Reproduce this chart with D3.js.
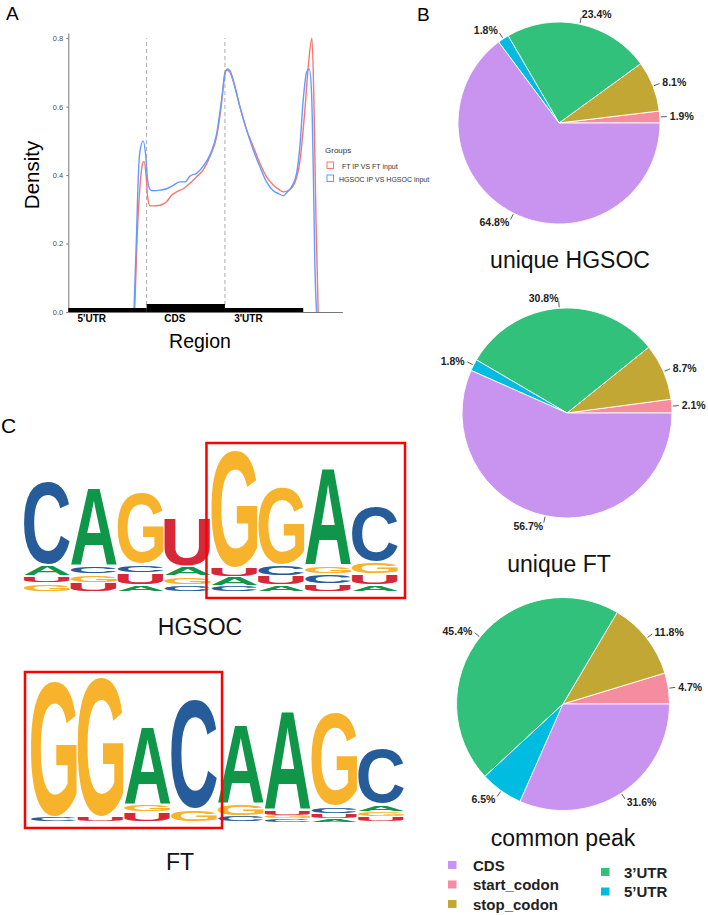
<!DOCTYPE html>
<html>
<head>
<meta charset="utf-8">
<script src="https://cdn.jsdelivr.net/npm/d3@7"></script>
<style>
  body { margin: 0; background: #fff; }
  svg { display: block; }
</style>
</head>
<body>
<div id="chart"></div>
<script>
// ---- data ----
// metagene density, x in region units (0-1 5'UTR, 1-2 CDS, 2-3 3'UTR)
const groups = ["FT IP VS FT input", "HGSOC IP VS HGSOC input"];
const groupColors = ["#F8766D", "#619CFF"];
const ftDensity = [[0.847,0],[0.881,0.23],[0.915,0.366],[0.949,0.434],[0.966,0.44],[0.991,0.405],[1.013,0.337],[1.043,0.31],[1.085,0.31],[1.17,0.312],[1.255,0.322],[1.319,0.341],[1.383,0.351],[1.468,0.36],[1.553,0.376],[1.638,0.395],[1.723,0.415],[1.809,0.454],[1.894,0.512],[1.957,0.61],[2.0,0.70],[2.021,0.707],[2.064,0.70],[2.106,0.673],[2.191,0.6],[2.277,0.532],[2.362,0.483],[2.447,0.434],[2.532,0.395],[2.617,0.371],[2.702,0.356],[2.745,0.351],[2.83,0.358],[2.894,0.378],[2.957,0.44],[3.021,0.59],[3.064,0.717],[3.111,0.8],[3.136,0.62],[3.162,0.278],[3.191,0]];
const hgsocDensity = [[0.838,0],[0.872,0.23],[0.889,0.366],[0.915,0.47],[0.957,0.50],[0.987,0.46],[1.013,0.385],[1.043,0.358],[1.085,0.354],[1.17,0.356],[1.255,0.36],[1.34,0.37],[1.426,0.38],[1.489,0.38],[1.553,0.397],[1.638,0.405],[1.723,0.426],[1.809,0.459],[1.894,0.52],[1.957,0.62],[2.0,0.693],[2.03,0.71],[2.064,0.705],[2.106,0.678],[2.191,0.6],[2.277,0.532],[2.362,0.473],[2.447,0.424],[2.532,0.38],[2.617,0.354],[2.681,0.346],[2.745,0.34],[2.787,0.348],[2.851,0.366],[2.915,0.405],[2.957,0.483],[3.0,0.62],[3.043,0.70],[3.077,0.71],[3.106,0.64],[3.128,0.42],[3.149,0.13],[3.17,0]];
const densityTicks = [0, 0.2, 0.4, 0.6, 0.8];
const regionNames = ["5'UTR", "CDS", "3'UTR"];
const regionLabelAt = [0.3, 1.36, 2.3];

// peak distribution pies
const pieCategories = ["CDS", "start_codon", "stop_codon", "3’UTR", "5’UTR"];
const pieColors = ["#C993F0", "#F68CA0", "#C2A735", "#31C17B", "#00BCE0"];
const sliceOrder = ["start_codon", "stop_codon", "3’UTR", "5’UTR", "CDS"];
const uniqueHGSOC = [64.8, 1.9, 8.1, 23.4, 1.8];
const uniqueFT = [56.7, 2.1, 8.7, 30.8, 1.8];
const commonPeak = [31.6, 4.7, 11.8, 45.4, 6.5];
const pieTitles = ["unique HGSOC", "unique FT", "common peak"];

// motif logos: letters bottom -> top, heights in bits
const hgsocLetters = [["G","U","A","C"],["U","G","C","A"],["A","U","C","G"],["C","G","A","U"],["C","A","U","G"],["A","U","C","G"],["U","C","G","A"],["A","U","G","C"]];
const hgsocBits = [[0.12,0.10,0.14,1.11],[0.12,0.12,0.12,1.04],[0.09,0.16,0.12,0.95],[0.09,0.12,0.13,0.65],[0.08,0.12,0.13,1.57],[0.09,0.12,0.15,1.04],[0.11,0.13,0.12,1.31],[0.09,0.15,0.16,0.74]];
const ftLetters = [["C","G"],["U","G"],["U","G","A"],["G","C"],["C","G","A"],["C","G","U","A"],["A","U","C","G"],["U","G","A","C"]];
const ftBits = [[0.07,1.81],[0.07,1.87],[0.13,0.11,1.05],[0.16,1.47],[0.08,0.16,1.06],[0.04,0.05,0.07,1.32],[0.04,0.07,0.10,1.25],[0.07,0.07,0.10,0.75]];
const baseColors = {A: "#109648", C: "#255C99", G: "#F7B32B", U: "#D62839"};

// ---- setup ----
const FONT = "'Liberation Sans', Arial, Helvetica, sans-serif";
const svg = d3.select("#chart").append("svg")
  .attr("width", 708).attr("height", 915)
  .style("font-family", FONT);

// panel letters
svg.append("text").attr("x", 6).attr("y", 20).attr("font-size", 19).text("A");
svg.append("text").attr("x", 417).attr("y", 21).attr("font-size", 19).text("B");
svg.append("text").attr("x", 1).attr("y", 433).attr("font-size", 21).text("C");

// ---- A: density ----
const x = d3.scaleLinear().domain([0, 3.5]).range([68.3, 342.4]);
const y = d3.scaleLinear().domain([0, 0.815]).range([312, 33]);
const gA = svg.append("g");

gA.append("g").attr("transform", `translate(${x(0)},0)`)
  .call(d3.axisLeft(y).tickValues(densityTicks).tickFormat(d3.format(".1f")).tickSize(2).tickSizeOuter(0))
  .call(g => g.selectAll("path,line").attr("stroke", "#555").attr("stroke-width", 0.8))
  .call(g => g.selectAll("text").attr("fill", "#4d4d4d").attr("font-size", 7.5).attr("font-family", FONT));

gA.append("g").attr("transform", `translate(0,${y(0)})`)
  .call(d3.axisBottom(x).tickValues([]).tickSizeOuter(0))
  .call(g => g.select("path").attr("stroke", "#555").attr("stroke-width", 0.8));

// region boundaries
gA.selectAll("line.bound").data([1, 2]).enter().append("line")
  .attr("x1", d => x(d)).attr("x2", d => x(d))
  .attr("y1", y(0)).attr("y2", y(0.8))
  .attr("stroke", "#aaa").attr("stroke-width", 1).attr("stroke-dasharray", "4,3");

const line = d3.line().x(d => x(d[0])).y(d => y(d[1])).curve(d3.curveMonotoneX);
[ftDensity, hgsocDensity].forEach((ser, i) => {
  gA.append("path").attr("d", line(ser))
    .attr("fill", "none").attr("stroke", groupColors[i]).attr("stroke-width", 1.4);
});

// gene model
gA.selectAll("rect.gene").data(regionNames).enter().append("rect")
  .attr("x", (d, i) => x(i)).attr("width", x(1) - x(0))
  .attr("y", (d, i) => y(0) - (i === 1 ? 8 : 4))
  .attr("height", (d, i) => i === 1 ? 8 : 4)
  .attr("fill", "#000");
gA.selectAll("text.region").data(regionNames).enter().append("text")
  .attr("x", (d, i) => x(regionLabelAt[i])).attr("y", 322)
  .attr("text-anchor", "middle").attr("font-size", 10).attr("font-weight", "bold")
  .text(d => d);

gA.append("text").attr("x", 200).attr("y", 348).attr("text-anchor", "middle")
  .attr("font-size", 19.5).text("Region");
gA.append("text").attr("transform", "translate(39,175) rotate(-90)")
  .attr("text-anchor", "middle").attr("font-size", 20.5).text("Density");

// legend
gA.append("text").attr("x", 325).attr("y", 153).attr("font-size", 8).attr("fill", "#333").text("Groups");
groups.forEach((gname, i) => {
  gA.append("rect").attr("x", 327).attr("y", 162 + i * 13).attr("width", 6.5).attr("height", 6.5)
    .attr("fill", "#fff").attr("stroke", groupColors[i]).attr("stroke-width", 1);
  gA.append("text").attr("x", i === 0 ? 342 : 339).attr("y", 168.5 + i * 13)
    .attr("font-size", 7).attr("fill", "#333").text(gname);
});

// ---- B: pies ----
const pieSpecs = [
  {values: uniqueHGSOC, cx: 559, cy: 123, r: 101, ty: 268, tx: 570},
  {values: uniqueFT, cx: 567, cy: 413, r: 105, ty: 572, tx: 559},
  {values: commonPeak, cx: 563, cy: 704, r: 106.5, ty: 846, tx: 563}
];
const pie = d3.pie().sort(null).value(d => d.value);

pieSpecs.forEach((spec, k) => {
  const rows = sliceOrder.map(name => ({name, value: spec.values[pieCategories.indexOf(name)]}));
  // ggplot-style: start at 3 o'clock, run counter-clockwise
  const arcs = pie(rows).map(a => ({...a, s: Math.PI / 2 - a.endAngle, e: Math.PI / 2 - a.startAngle}));
  const g = svg.append("g").attr("transform", `translate(${spec.cx},${spec.cy})`);
  const arc = d3.arc().innerRadius(0).outerRadius(spec.r);
  g.selectAll("path").data(arcs).enter().append("path")
    .attr("d", a => arc({startAngle: a.s, endAngle: a.e}))
    .attr("fill", a => pieColors[pieCategories.indexOf(a.data.name)])
    .attr("stroke", "#fff").attr("stroke-width", 0.9);

  arcs.forEach(a => {
    const t = (a.s + a.e) / 2;
    const sx = Math.sin(t), sy = -Math.cos(t);
    g.append("line")
      .attr("x1", sx * (spec.r + 1)).attr("y1", sy * (spec.r + 1))
      .attr("x2", sx * (spec.r + 7)).attr("y2", sy * (spec.r + 7))
      .attr("stroke", "#333").attr("stroke-width", 0.8);
    g.append("text")
      .attr("x", sx * (spec.r + 10)).attr("y", sy * (spec.r + 10))
      .attr("text-anchor", sx >= 0 ? "start" : "end")
      .attr("dominant-baseline", "central")
      .attr("font-size", 10.5).attr("font-weight", "bold").attr("fill", "#222")
      .text(a.data.value.toFixed(1) + "%");
  });

  svg.append("text").attr("x", spec.tx).attr("y", spec.ty).attr("text-anchor", "middle")
    .attr("font-size", 23).attr("fill", "#111").text(pieTitles[k]);
});

// pie legend (two columns)
pieCategories.forEach((name, i) => {
  const col = i < 3 ? 0 : 1, row = i < 3 ? i : i - 3;
  const lx = col === 0 ? 448 : 601;
  const ly = col === 0 ? 865 + row * 19.5 : 872 + row * 19.5;
  svg.append("rect").attr("x", lx).attr("y", ly - 4).attr("width", 8.5).attr("height", 8)
    .attr("fill", pieColors[i]);
  svg.append("text").attr("x", lx + (col === 0 ? 25 : 23)).attr("y", ly + 5.5)
    .attr("font-size", 15).attr("font-weight", "bold").attr("fill", "#222").text(name);
});

// ---- C: sequence logos ----
const mctx = document.createElement("canvas").getContext("2d");
mctx.font = "bold 100px 'Liberation Sans'";
const glyphBox = {};
Object.keys(baseColors).forEach(ch => {
  const m = mctx.measureText(ch);
  glyphBox[ch] = {l: m.actualBoundingBoxLeft, r: m.actualBoundingBoxRight,
                  a: m.actualBoundingBoxAscent, d: m.actualBoundingBoxDescent};
});

function drawGlyph(g, ch, bx, by, w, h) {
  const m = glyphBox[ch];
  const sx = w / (m.l + m.r), sy = h / (m.a + m.d);
  g.append("text")
    .attr("transform", `translate(${bx},${by}) scale(${sx},${sy}) translate(${m.l},${m.a})`)
    .attr("font-family", "'Liberation Sans'").attr("font-weight", "bold").attr("font-size", 100)
    .attr("fill", baseColors[ch]).text(ch);
}

function drawLogo(letters, bits, x0, x1, baseline) {
  const g = svg.append("g");
  const xb = d3.scaleBand().domain(d3.range(letters.length)).range([x0, x1]).paddingInner(0.02);
  const hb = d3.scaleLinear().domain([0, 2]).range([0, 150]);
  letters.forEach((col, i) => {
    let acc = 0;
    col.forEach((ch, j) => {
      const h = hb(bits[i][j]);
      const top = baseline - hb(acc) - h;
      acc += bits[i][j];
      const gap = Math.min(2, h * 0.25);
      drawGlyph(g, ch, xb(i), top + gap / 2, xb.bandwidth(), h - gap);
    });
  });
  return {g, xb};
}

const logo1 = drawLogo(hgsocLetters, hgsocBits, 24, 398, 592);
logo1.g.append("rect")
  .attr("x", logo1.xb(4) - 5).attr("y", 443)
  .attr("width", 398 + 7 - (logo1.xb(4) - 5)).attr("height", 155)
  .attr("fill", "none").attr("stroke", "#ff0000").attr("stroke-width", 2.5);
svg.append("text").attr("x", 200).attr("y", 635).attr("text-anchor", "middle")
  .attr("font-size", 23).attr("fill", "#111").text("HGSOC");

const logo2 = drawLogo(ftLetters, ftBits, 31, 404, 822);
logo2.g.append("rect")
  .attr("x", 25).attr("y", 672)
  .attr("width", logo2.xb(3) + logo2.xb.bandwidth() + 5 - 25).attr("height", 156)
  .attr("fill", "none").attr("stroke", "#ff0000").attr("stroke-width", 2.5);
svg.append("text").attr("x", 180).attr("y", 870).attr("text-anchor", "middle")
  .attr("font-size", 23).attr("fill", "#111").text("FT");
</script>
</body>
</html>
